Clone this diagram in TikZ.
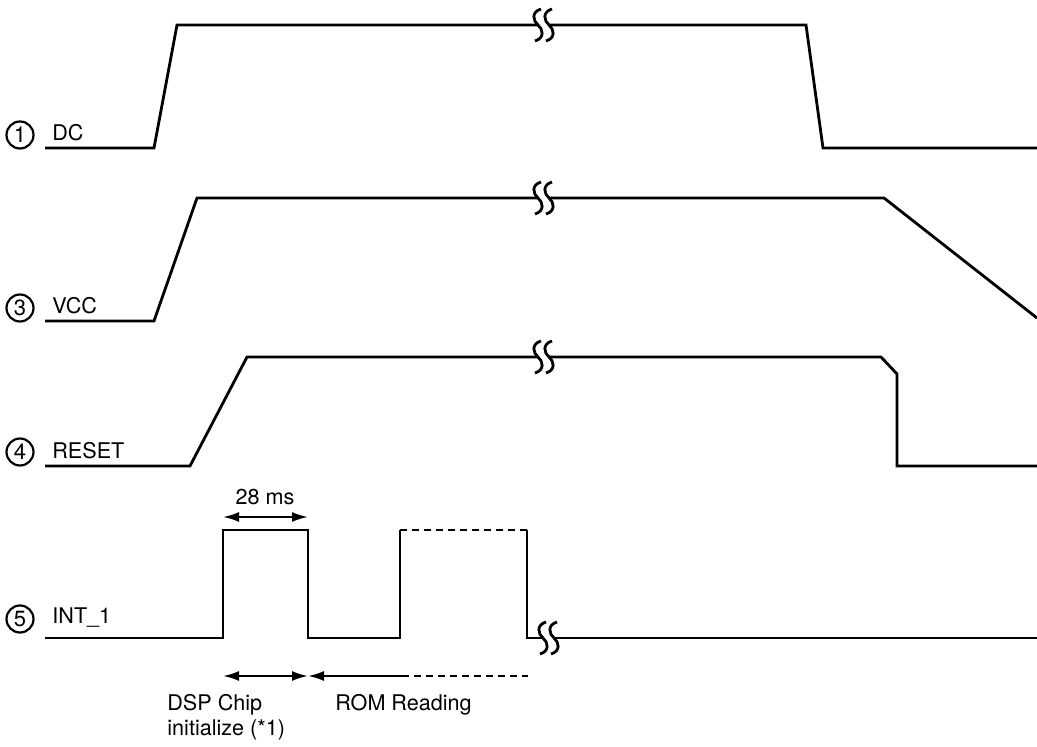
\documentclass[tikz,border=0pt]{standalone}
\usepackage{fontspec}
\setmainfont{TeX Gyre Heros}
\usetikzlibrary{arrows.meta}
\begin{document}
\begin{tikzpicture}[x=0.5pt,y=-0.5pt,
  >={Latex[length=8pt,width=5pt]},
  sig/.style={line width=1.4pt, line join=miter},
  dsig/.style={sig, dash pattern=on 3.5pt off 2.5pt},
  dimline/.style={line width=1.1pt},
  lbl/.style={font=\fontsize{10.8}{12.5}\selectfont, inner sep=0pt},
  num/.style={circle, draw, line width=1.1pt, minimum size=13.5pt, inner sep=0pt, font=\fontsize{11}{12}\selectfont},
  brk/.pic={
    \draw[line width=1.4pt] (3,-16) .. controls (-7,-13) and (-5,-4) .. (0,0) .. controls (5,4) and (7,13) .. (-3,16);
    \draw[line width=1.4pt] (14,-16) .. controls (4,-13) and (6,-4) .. (11,0) .. controls (16,4) and (18,13) .. (8,16);}
]
\useasboundingbox (0,0) rectangle (1037,747);

% labels
\node[num] (n1) at (20,135) {1};
\node[lbl, anchor=base west] (tDC) at (52,141) {DC};
\node[num] (n3) at (20,308) {3};
\node[lbl, anchor=base west] (tVCC) at (52,314) {VCC};
\node[num] (n4) at (20,452) {4};
\node[lbl, anchor=base west] (tRESET) at (52,459) {RESET};
\node[num] (n5) at (20,619) {5};
\node[lbl, anchor=base west] (tINT) at (52,623) {INT\_1};

% DC
\draw[sig] (45,148) -- (154,148) -- (177,25) -- (538,25);
\pic at (538,25) {brk};
\draw[sig] (549,25) -- (806,25) -- (823,148) -- (1037,148);

% VCC
\draw[sig] (45,321) -- (154,321) -- (197,198) -- (538,198);
\pic at (538,198) {brk};
\draw[sig] (549,198) -- (884,198) -- (1037,318);

% RESET
\draw[sig] (45,466) -- (190,466) -- (247,357) -- (538,357);
\pic at (538,357) {brk};
\draw[sig] (549,357) -- (881,357) -- (897,374) -- (897,466) -- (1037,466);

% INT_1
\draw[sig] (45,638) -- (223,638) -- (223,530) -- (308,530) -- (308,638) -- (400,638) -- (400,530);
\draw[dsig] (400,530) -- (527,530);
\draw[sig] (527,530) -- (527,638) -- (543,638);
\pic at (543,638) {brk};
\draw[sig] (554,638) -- (1037,638);

% dimensions
\coordinate (a1) at (223,517);
\coordinate (a2) at (308,517);
\draw[dimline, <->] (a1) -- (a2);
\node[lbl, anchor=base] (t28) at (265,505) {28 ms};

\coordinate (b1) at (223,676);
\coordinate (b2) at (308,676);
\coordinate (b3) at (402,676);
\coordinate (b4) at (528,676);
\draw[dimline, <->] (b1) -- (b2);
\draw[dimline, <-] (b2) -- (b3);
\draw[dimline, dash pattern=on 3.5pt off 2.5pt] (b3) -- (b4);

\node[lbl, anchor=base west] (tDSP) at (167,710) {DSP Chip};
\node[lbl, anchor=base west] (tINI) at (167,735) {initialize (*1)};
\node[lbl, anchor=base west] (tROM) at (335,710) {ROM Reading};
\end{tikzpicture}
\end{document}
